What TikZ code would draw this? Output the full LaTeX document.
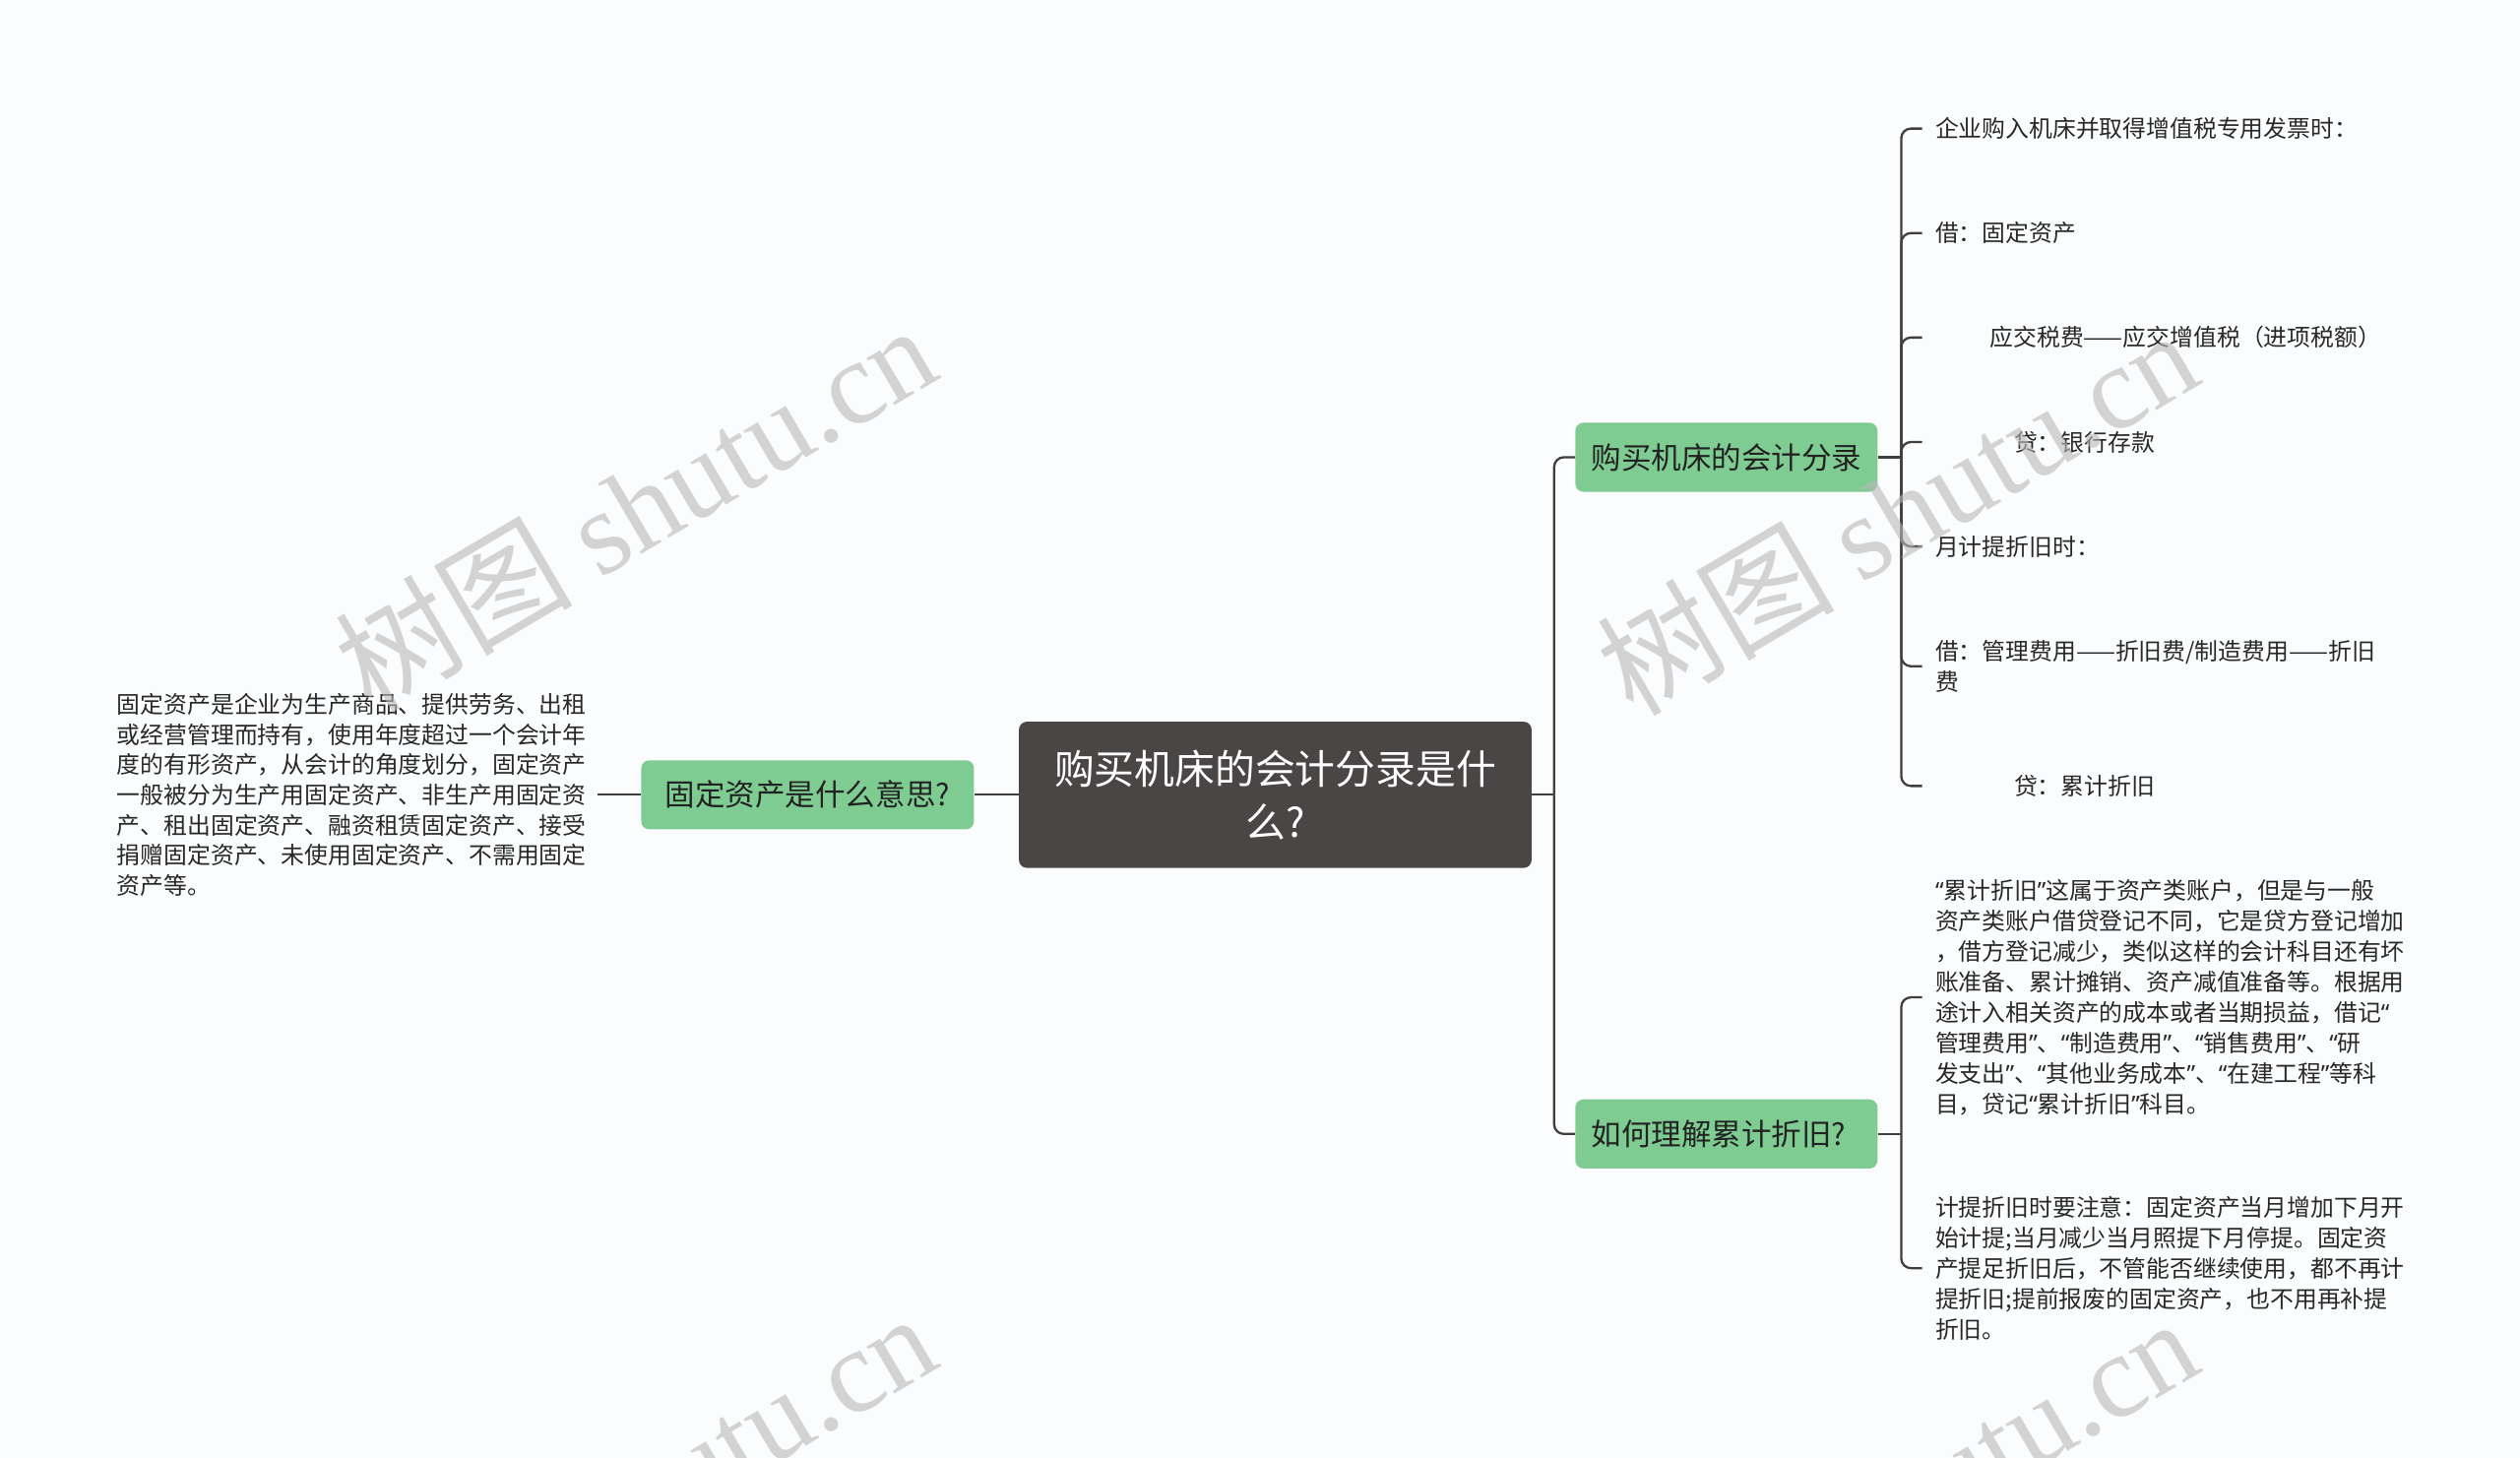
\documentclass[tikz,border=0pt]{standalone}
\usepackage{fontspec}
\setmainfont{Noto Sans CJK SC}
\newfontfamily\wmserif{Liberation Serif}
\newfontfamily\latq{Noto Sans}
\newcommand\myoq{{\latq “}}
\newcommand\mycq{{\latq ”}}
\definecolor{bgc}{RGB}{250,252,253}
\definecolor{linec}{RGB}{64,62,62}
\definecolor{greenc}{RGB}{126,204,146}
\definecolor{darkc}{RGB}{75,70,70}
\definecolor{txtc}{RGB}{34,34,34}
\definecolor{leafc}{RGB}{40,40,40}
\definecolor{wmc}{RGB}{185,185,185}
\begin{document}
\begin{tikzpicture}[x=1pt,y=-1pt,
  conn/.style={draw=linec, line width=1.4pt},
  rc/.style={rounded corners=6pt},
  greenbox/.style={fill=greenc, rounded corners=5pt, text=txtc, font=\fontsize{18.7pt}{22pt}\selectfont, minimum height=43pt, inner ysep=0pt},
  leaf/.style={anchor=west, inner xsep=8pt, inner ysep=2pt, align=left, text=leafc, font=\fontsize{14.6pt}{19pt}\selectfont},
  wm/.style={rotate=30.5, text=wmc, opacity=0.6, font=\fontsize{74pt}{80pt}\selectfont}
]
\fill[bgc] (0,0) rectangle (1568,907);
\useasboundingbox (0,0) rectangle (1568,907);

% central
\node[fill=darkc, rounded corners=5pt, text=white, minimum width=319pt, minimum height=91pt, text width=280pt, align=center, inner xsep=0pt,
  font=\fontsize{25pt}{33pt}\selectfont] (c) at (793.5,494.5) {购买机床的会计分录是什\\么?};

% left
\node[greenbox, minimum width=207pt] (l) at (502.5,494.5) {固定资产是什么意思?};
\node[anchor=east, inner xsep=7pt, align=left, text=leafc, font=\fontsize{14.6pt}{18.8pt}\selectfont] (lt) at (372,494.5)
{固定资产是企业为生产商品、提供劳务、出租\\或经营管理而持有，使用年度超过一个会计年\\度的有形资产，从会计的角度划分，固定资产\\一般被分为生产用固定资产、非生产用固定资\\产、租出固定资产、融资租赁固定资产、接受\\捐赠固定资产、未使用固定资产、不需用固定\\资产等。};

% right main nodes
\node[greenbox, anchor=west, text width=168pt, inner xsep=10pt, align=left] (n1) at (980,284.5) {购买机床的会计分录};
\node[greenbox, anchor=west, text width=168pt, inner xsep=10pt, align=left] (n2) at (980,705.5) {如何理解累计折旧?};

% leaves of n1
\node[leaf] (a1) at (1196,80) {企业购入机床并取得增值税专用发票时：};
\node[leaf] (a2) at (1196,145) {借：固定资产};
\node[leaf] (a3) at (1196,210) {\hspace*{34pt}应交税费——应交增值税（进项税额）};
\node[leaf] (a4) at (1196,275) {\hspace*{49pt}贷：银行存款};
\node[leaf] (a5) at (1196,340) {月计提折旧时：};
\node[leaf] (a6) at (1196,414.5) {借：管理费用——折旧费/制造费用——折旧\\费};
\node[leaf] (a7) at (1196,489) {\hspace*{49pt}贷：累计折旧};

% leaves of n2
\node[leaf] (b1) at (1196,620.5) {\myoq 累计折旧\mycq 这属于资产类账户，但是与一般\\资产类账户借贷登记不同，它是贷方登记增加\\，借方登记减少，类似这样的会计科目还有坏\\账准备、累计摊销、资产减值准备等。根据用\\途计入相关资产的成本或者当期损益，借记\myoq\\管理费用\mycq 、\myoq 制造费用\mycq 、\myoq 销售费用\mycq 、\myoq 研\\发支出\mycq 、\myoq 其他业务成本\mycq 、\myoq 在建工程\mycq 等科\\目，贷记\myoq 累计折旧\mycq 科目。};
\node[leaf] (b2) at (1196,789) {计提折旧时要注意：固定资产当月增加下月开\\始计提;当月减少当月照提下月停提。固定资\\产提足折旧后，不管能否继续使用，都不再计\\提折旧;提前报废的固定资产，也不用再补提\\折旧。};

% connectors
\draw[conn] (c.west) -- (l.east);
\draw[conn] (l.west) -- (lt.east);

\coordinate (jc) at (967,494.5);
\draw[conn] (c.east) -- (jc);
\draw[conn, rc] (jc) |- (n1.west);
\draw[conn, rc] (jc) |- (n2.west);

\coordinate (j1) at (1183,284.5);
\draw[conn] (n1.east) -- (j1);
\foreach \t in {a1,a2,a3,a4,a5,a6,a7}{
  \draw[conn, rc] (j1) |- (\t.west);
}
\coordinate (j2) at (1183,705.5);
\draw[conn] (n2.east) -- (j2);
\foreach \t in {b1,b2}{
  \draw[conn, rc] (j2) |- (\t.west);
}

% watermarks
\node[wm] (w1) at (395,315) {树图 {\wmserif shutu.cn}};
\node[wm] (w2) at (1180,318) {树图 {\wmserif shutu.cn}};
\node[wm] (w3) at (395,930) {树图 {\wmserif shutu.cn}};
\node[wm] (w4) at (1180,933) {树图 {\wmserif shutu.cn}};
\end{tikzpicture}
\end{document}
